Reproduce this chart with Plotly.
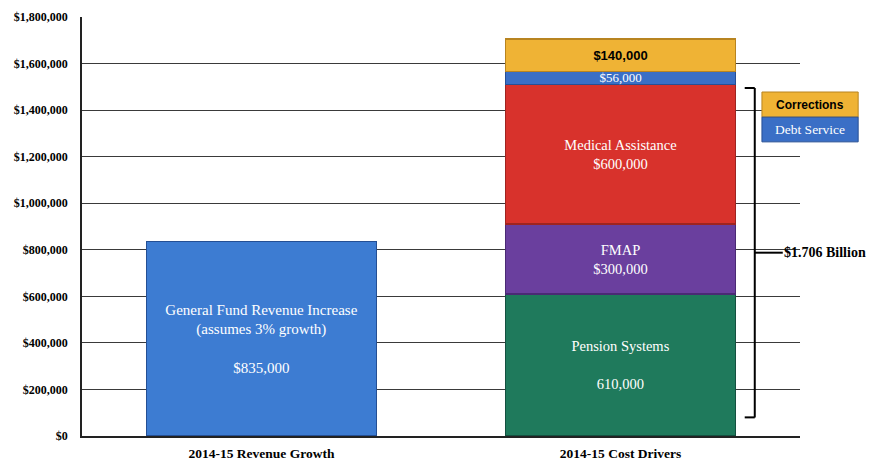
import plotly.graph_objects as go

# Categories on the x axis
categories = ["2014-15 Revenue Growth", "2014-15 Cost Drivers"]

# Revenue side
revenue_name = "General Fund Revenue Increase<br>(assumes 3% growth)"
revenue_value = 835000

# Cost-driver stack, bottom to top
cost_names = ["Pension Systems", "FMAP", "Medical Assistance", "Debt Service", "Corrections"]
cost_values = [610000, 300000, 600000, 56000, 140000]
cost_prefix = ["", "$", "$", "$", "$"]
cost_colors = ["#1f7a5c", "#6a3f9e", "#d8322c", "#3a6fc6", "#efb335"]
cost_lines = ["#145040", "#4a2a74", "#9e2420", "#274f94", "#b88420"]

# y-axis ticks
tick_vals = [0, 200000, 400000, 600000, 800000, 1000000, 1200000, 1400000, 1600000, 1800000]
tick_text = ["<b>$" + f"{v:,}" + "</b>" for v in tick_vals]

fig = go.Figure()

fig.add_trace(go.Bar(
    x=[categories[0]], y=[revenue_value],
    marker=dict(color="#3d7cd2", line=dict(color="#244f94", width=1.5)),
    text=[f"{revenue_name}<br><br>${revenue_value:,}"],
    textposition="inside", insidetextanchor="middle", constraintext="none",
    textangle=0,
    textfont=dict(family="Liberation Serif", size=15, color="white"),
    showlegend=False, hoverinfo="skip",
))

for i, (name, val) in enumerate(zip(cost_names, cost_values)):
    if name == "Corrections":
        txt = f"<b>{cost_prefix[i]}{val:,}</b>"
        tf = dict(family="Liberation Sans", size=13, color="black")
    elif name == "Debt Service":
        txt = f"{cost_prefix[i]}{val:,}"
        tf = dict(family="Liberation Serif", size=13, color="white")
    elif name == "Pension Systems":
        txt = f"{name}<br><br>{cost_prefix[i]}{val:,}"
        tf = dict(family="Liberation Serif", size=14.5, color="white")
    else:
        txt = f"{name}<br>{cost_prefix[i]}{val:,}"
        tf = dict(family="Liberation Serif", size=14.5, color="white")
    fig.add_trace(go.Bar(
        x=[categories[1]], y=[val], name=name,
        marker=dict(color=cost_colors[i], line=dict(color=cost_lines[i], width=1.5)),
        text=[txt], textposition="inside", insidetextanchor="middle",
        constraintext="none", textangle=0, textfont=tf,
        showlegend=False, hoverinfo="skip",
    ))

# Bracket spanning the cost drivers, with the total
total = sum(cost_values)
br_top, br_bot = 1495000, 80000
br_mid = (br_top + br_bot) / 2
bx, bx_in, bx_out = 0.937, 0.923, 0.976
line = dict(color="black", width=2)
shapes = [
    dict(type="line", xref="paper", yref="y", x0=bx, x1=bx, y0=br_bot, y1=br_top, line=line),
    dict(type="line", xref="paper", yref="y", x0=bx_in, x1=bx, y0=br_top, y1=br_top, line=line),
    dict(type="line", xref="paper", yref="y", x0=bx_in, x1=bx, y0=br_bot, y1=br_bot, line=line),
    dict(type="line", xref="paper", yref="y", x0=bx, x1=bx_out, y0=br_mid, y1=br_mid, line=line),
    # legend boxes
    dict(type="rect", xref="paper", yref="paper", x0=0.947, x1=1.081, y0=0.761, y1=0.821,
         fillcolor=cost_colors[4], line=dict(color=cost_lines[4], width=1)),
    dict(type="rect", xref="paper", yref="paper", x0=0.947, x1=1.081, y0=0.702, y1=0.761,
         fillcolor=cost_colors[3], line=dict(color=cost_lines[3], width=1)),
]

annotations = [
    dict(xref="paper", yref="y", x=0.975, y=br_mid, xanchor="left", yanchor="middle",
         text=f"<b>${total/1e6:.3f} Billion</b>", showarrow=False,
         font=dict(family="Liberation Serif", size=14, color="black")),
    dict(xref="paper", yref="paper", x=1.014, y=0.791, xanchor="center", yanchor="middle",
         text="<b>Corrections</b>", showarrow=False,
         font=dict(family="Liberation Sans", size=12, color="black")),
    dict(xref="paper", yref="paper", x=1.014, y=0.731, xanchor="center", yanchor="middle",
         text="Debt Service", showarrow=False,
         font=dict(family="Liberation Serif", size=13.5, color="white")),
]

fig.update_layout(
    barmode="stack",
    bargap=0.36,
    width=869, height=463,
    margin=dict(l=82, r=69, t=17, b=27),
    paper_bgcolor="white", plot_bgcolor="white",
    shapes=shapes, annotations=annotations,
    showlegend=False,
)
fig.update_yaxes(
    range=[0, 1800000], tickvals=tick_vals, ticktext=tick_text,
    tickfont=dict(family="Liberation Serif", size=12, color="black"),
    showgrid=True, gridcolor="#3a3a3a", gridwidth=1,
    showline=True, linecolor="#222", linewidth=1.5,
    ticks="", ticklabelstandoff=10, zeroline=False, automargin=False,
)
fig.update_xaxes(
    tickfont=dict(family="Liberation Serif", size=13.5, color="black"),
    tickvals=categories, ticktext=[f"<b>{c}</b>" for c in categories],
    showline=True, linecolor="#222", linewidth=1.5, ticks="",
    ticklabelstandoff=4, automargin=False,
)

fig.write_html("out.html")
